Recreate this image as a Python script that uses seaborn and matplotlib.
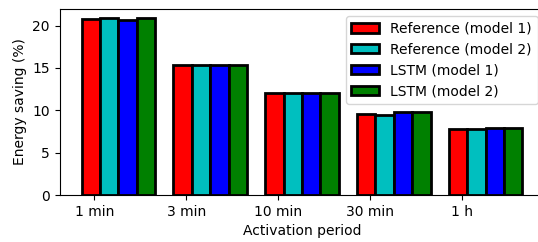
import pandas as pd
import numpy as np
import matplotlib
matplotlib.use("Agg")
import matplotlib.pyplot as plt
import seaborn as sns

# Data
periods = ["1 min", "3 min", "10 min", "30 min", "1 h"]
ref_model1 = [20.8, 15.3, 12.05, 9.55, 7.85]
ref_model2 = [20.95, 15.3, 12.05, 9.5, 7.8]
lstm_model1 = [20.7, 15.3, 12.05, 9.8, 7.95]
lstm_model2 = [20.95, 15.3, 12.05, 9.8, 7.95]
series_names = ["Reference (model 1)", "Reference (model 2)",
                "LSTM (model 1)", "LSTM (model 2)"]
series_colors = ["r", "c", "b", "g"]

# long-format table for seaborn
frames = []
for name, vals in zip(series_names, [ref_model1, ref_model2, lstm_model1, lstm_model2]):
    frames.append(pd.DataFrame({"period": periods, "saving": vals, "series": name}))
df = pd.concat(frames, ignore_index=True)

fig = plt.figure(figsize=(5.38, 2.42), dpi=100)
ax = fig.add_axes([0.1106, 0.194, 0.9015, 0.7686])

sns.barplot(data=df, x="period", y="saving", hue="series",
            hue_order=series_names, palette=series_colors, saturation=1,
            edgecolor="black", linewidth=2, width=0.8, ax=ax)

# ticks sit left of the group centres, as in the original
ax.set_xticks(np.arange(len(periods)) - 0.26)
ax.set_xticklabels(periods)
ax.set_xlim(-0.64, 4.64)
ax.set_ylim(0, 21.95)
ax.set_yticks([0, 5, 10, 15, 20])
ax.set_xlabel("Activation period")
ax.set_ylabel("Energy saving (%)")

handles, labels = ax.get_legend_handles_labels()
for h in handles:
    h.set_edgecolor("black")
    h.set_linewidth(2)
ax.legend(handles, labels, loc="upper right", title=None)

fig.savefig("out.png", dpi=100)
